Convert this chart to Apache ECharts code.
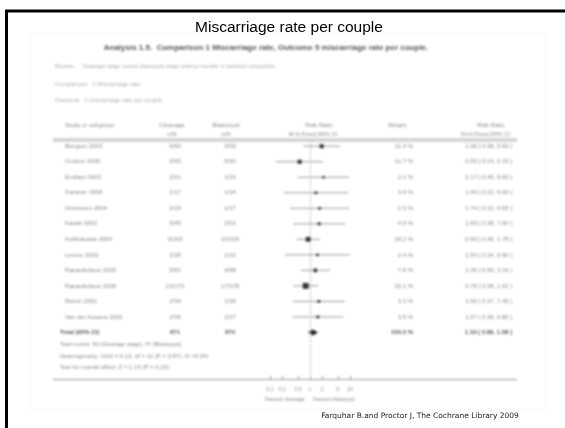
<!DOCTYPE html>
<html>
<head>
<meta charset="utf-8">
<script src="https://cdn.jsdelivr.net/npm/echarts@6/dist/echarts.min.js"></script>
<style>
  html, body { margin: 0; padding: 0; background: #fff; }
  #forest, #slide { position: absolute; left: 0; top: 0; width: 565px; height: 428px; }
  #forest { filter: blur(0.85px); }
</style>
</head>
<body>
<div id="forest"></div>
<div id="slide"></div>
<script>
// Studies in the meta-analysis (miscarriage rate per couple)
const studies = ['Bungum 2003', 'Coskun 2000', 'Emiliani 2003', 'Gardner 1998',
  'Hreinsson 2004', 'Karaki 2002', 'Kolibianakis 2004', 'Levron 2002',
  'Papanikolaou 2005', 'Papanikolaou 2006', 'Rienzi 2002', 'Van der Auwera 2002'];
const eventsA = [6, 3, 2, 1, 2, 3, 9, 2, 5, 13, 2, 2];
const totalA  = [60, 55, 21, 17, 19, 45, 103, 28, 81, 173, 34, 35];
const eventsB = [3, 5, 1, 1, 1, 2, 10, 1, 4, 17, 1, 1];
const totalB  = [59, 50, 23, 24, 17, 51, 103, 22, 88, 178, 28, 27];
const riskRatio = [1.96, 0.55, 2.17, 1.40, 1.74, 1.69, 0.90, 1.54, 1.36, 0.78, 1.66, 1.57];
const ciLow     = [0.68, 0.14, 0.49, 0.22, 0.32, 0.38, 0.46, 0.24, 0.59, 0.38, 0.37, 0.36];
const ciHigh    = [5.60, 2.15, 9.60, 9.00, 9.55, 7.50, 1.78, 9.90, 3.16, 1.61, 7.45, 6.80];
const weights   = [11.4, 11.7, 2.1, 3.0, 2.5, 4.0, 18.2, 2.4, 7.8, 30.1, 3.3, 3.5];
const pooledRR = 1.19, pooledLow = 0.89, pooledHigh = 1.58;
const tickValues = [0.1, 0.2, 0.5, 1, 2, 5, 10];
const tickLabels = ['0.1', '0.2', '0.5', '1', '2', '5', '10'];

const sum = a => a.reduce((s, v) => s + v, 0);
const fmt = v => v.toFixed(2);
const FONT = '"Liberation Sans", Arial, sans-serif';
const GREY = '#888';

function txt(x, y, text, opts) {
  opts = opts || {};
  return {
    type: 'text', x: x, y: y, silent: true,
    style: {
      text: text, fill: opts.fill || GREY, align: opts.align || 'left',
      verticalAlign: 'middle',
      font: (opts.bold ? 'bold ' : '') + (opts.size || 6) + 'px ' + FONT
    }
  };
}

const studyRows = studies.map((s, i) => [i, riskRatio[i], ciLow[i], ciHigh[i], weights[i]]);
const pooledRow = [[studies.length, pooledRR, pooledLow, pooledHigh, sum(weights)]];

function renderStudy(params, api) {
  const i = api.value(0);
  const y = api.coord([1, i])[1];
  const xL = api.coord([api.value(2), i])[0];
  const xH = api.coord([api.value(3), i])[0];
  const xP = api.coord([api.value(1), i])[0];
  const s = Math.sqrt(api.value(4)) * 0.85 + 1.2;
  return {
    type: 'group',
    children: [
      { type: 'line', shape: { x1: xL, y1: y, x2: xH, y2: y }, style: { stroke: '#999', lineWidth: 1 } },
      { type: 'rect', shape: { x: xP - s / 2, y: y - s / 2, width: s, height: s }, style: { fill: '#333' } },
      txt(65, y, studies[i]),
      txt(175, y, eventsA[i] + '/' + totalA[i], { align: 'center' }),
      txt(230, y, eventsB[i] + '/' + totalB[i], { align: 'center' }),
      txt(413, y, api.value(4).toFixed(1) + ' %', { align: 'right' }),
      txt(512, y, fmt(api.value(1)) + ' [ ' + fmt(api.value(2)) + ', ' + fmt(api.value(3)) + ' ]', { align: 'right' })
    ]
  };
}

function renderPooled(params, api) {
  const i = api.value(0);
  const y = api.coord([1, i])[1];
  const xL = api.coord([api.value(2), i])[0];
  const xH = api.coord([api.value(3), i])[0];
  const xP = api.coord([api.value(1), i])[0];
  return {
    type: 'group',
    children: [
      { type: 'polygon', shape: { points: [[xL, y], [xP, y - 3], [xH, y], [xP, y + 3]] }, style: { fill: '#222' } },
      txt(60, y, 'Total (95% CI)', { bold: true, fill: '#555' }),
      txt(175, y, String(sum(totalA)), { align: 'center', bold: true, fill: '#555' }),
      txt(230, y, String(sum(totalB)), { align: 'center', bold: true, fill: '#555' }),
      txt(413, y, api.value(4).toFixed(1) + ' %', { align: 'right', bold: true, fill: '#555' }),
      txt(512, y, fmt(api.value(1)) + ' [ ' + fmt(api.value(2)) + ', ' + fmt(api.value(3)) + ' ]', { align: 'right', bold: true, fill: '#555' })
    ]
  };
}

const forest = echarts.init(document.getElementById('forest'), null, { renderer: 'canvas' });
forest.setOption({
  animation: false,
  backgroundColor: '#fff',
  grid: { left: 270, width: 80, top: 140, height: 239 },
  xAxis: {
    type: 'log', logBase: 10, min: 0.1, max: 10, position: 'bottom',
    axisLine: { show: false, onZero: false },
    splitLine: { show: false },
    axisTick: { show: true, inside: true, length: 3, customValues: tickValues, lineStyle: { color: '#999' } },
    axisLabel: {
      customValues: tickValues, margin: 8, color: GREY, fontSize: 5, fontFamily: FONT,
      formatter: v => tickLabels[tickValues.findIndex(t => Math.abs(t - v) < 1e-9)] || ''
    }
  },
  yAxis: { type: 'value', inverse: true, min: -0.4, max: 15, show: false },
  series: [
    {
      type: 'custom', renderItem: renderStudy, data: studyRows, silent: true,
      markLine: {
        silent: true, symbol: 'none', label: { show: false },
        lineStyle: { color: '#aaa', type: [2, 2], width: 1 },
        data: [{ xAxis: 1 }]
      }
    },
    { type: 'custom', renderItem: renderPooled, data: pooledRow, silent: true }
  ],
  graphic: [
    { type: 'rect', silent: true, shape: { x: 30.5, y: 33.5, width: 515, height: 377 },
      style: { fill: 'none', stroke: '#e2e2e2', lineDash: [1, 2], lineWidth: 1 } },
    txt(266, 48, 'Analysis 1.5.  Comparison 1 Miscarriage rate, Outcome 5 miscarriage rate per couple.', { align: 'center', bold: true, size: 8, fill: '#555' }),
    txt(55, 66, 'Review:     Cleavage stage versus blastocyst stage embryo transfer in assisted conception', { size: 5.5, fill: '#aaa' }),
    txt(55, 84, 'Comparison:  1 Miscarriage rate', { size: 6, fill: '#aaa' }),
    txt(55, 100, 'Outcome:  1 miscarriage rate per couple', { size: 6, fill: '#aaa' }),
    txt(65, 125, 'Study or subgroup'),
    txt(172, 125, 'Cleavage', { align: 'center' }),
    txt(172, 134, 'n/N', { align: 'center' }),
    txt(226, 125, 'Blastocyst', { align: 'center' }),
    txt(226, 134, 'n/N', { align: 'center' }),
    txt(319, 125, 'Risk Ratio', { align: 'center' }),
    txt(313, 134, 'M-H,Fixed,95% CI', { align: 'center' }),
    txt(397, 125, 'Weight', { align: 'center' }),
    txt(491, 125, 'Risk Ratio', { align: 'center' }),
    txt(510, 134, 'M-H,Fixed,95% CI', { align: 'right' }),
    { type: 'line', silent: true, shape: { x1: 53, y1: 139, x2: 517, y2: 139 }, style: { stroke: '#aaa', lineWidth: 1 } },
    { type: 'line', silent: true, shape: { x1: 53, y1: 141, x2: 517, y2: 141 }, style: { stroke: '#aaa', lineWidth: 1 } },
    { type: 'line', silent: true, shape: { x1: 53, y1: 379.5, x2: 517, y2: 379.5 }, style: { stroke: '#999', lineWidth: 1 } },
    txt(60, 344, 'Total events: ' + sum(eventsA) + ' (Cleavage stage), ' + sum(eventsB) + ' (Blastocyst)', { size: 5.5 }),
    txt(60, 356, 'Heterogeneity: Chi2 = 6.12, df = 11 (P = 0.87); I2 =0.0%'),
    txt(60, 367, 'Test for overall effect: Z = 1.19 (P = 0.23)'),
    txt(285, 400, 'Favours cleavage', { align: 'center', size: 5 }),
    txt(334, 400, 'Favours blastocyst', { align: 'center', size: 5 })
  ]
});

// Slide frame, heading and source line
const slide = echarts.init(document.getElementById('slide'), null, { renderer: 'canvas' });
slide.setOption({
  animation: false,
  backgroundColor: 'transparent',
  title: {
    text: 'Miscarriage rate per couple', left: 284, top: 15, textAlign: 'center',
    textStyle: { fontSize: 15.5, fontWeight: 'normal', color: '#000', fontFamily: FONT }
  },
  graphic: [
    { type: 'polyline', silent: true, shape: { points: [[6.5, 428], [6.5, 11], [565, 11]] },
      style: { stroke: '#000', lineWidth: 3, fill: 'none' } },
    { type: 'text', silent: true, x: 420, y: 416,
      style: { text: 'Farquhar B.and Proctor J, The Cochrane Library 2009', align: 'center', verticalAlign: 'middle',
        fill: '#222', font: '7.5px "DejaVu Sans", Verdana, sans-serif' } }
  ]
});
</script>
</body>
</html>
